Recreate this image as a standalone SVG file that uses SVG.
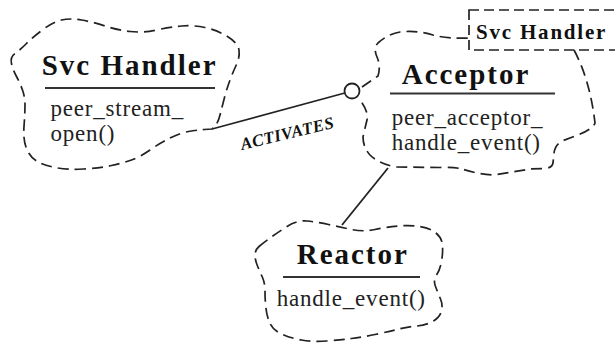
<svg xmlns="http://www.w3.org/2000/svg" width="615" height="344" viewBox="0 0 615 344">
<style>
.cloud{fill:none;stroke:#222;stroke-width:1.7;stroke-dasharray:11 6;stroke-linecap:butt;stroke-linejoin:round}
.box{fill:none;stroke:#222;stroke-width:1.7;stroke-dasharray:10 5}
.conn{fill:none;stroke:#222;stroke-width:1.8}
.title{font-family:"Liberation Serif",serif;font-weight:bold;font-size:29px;letter-spacing:2px;fill:#111}
.small{font-family:"Liberation Serif",serif;font-weight:bold;font-size:21px;letter-spacing:1.8px;fill:#111}
.mem{font-family:"Liberation Serif",serif;font-size:23px;letter-spacing:0.8px;fill:#222}
.rule{stroke:#333;stroke-width:2}
.lab{font-family:"Liberation Serif",serif;font-weight:bold;font-style:italic;font-size:17px;letter-spacing:0.5px;fill:#111}
</style>
<rect width="615" height="344" fill="#fff"/>
<g id="connectors">
<line class="conn" x1="212" y1="129" x2="344.8" y2="93"/>
<circle class="conn" cx="352" cy="91" r="7.5" fill="#fff"/>
<line class="conn" x1="388" y1="168" x2="342" y2="225"/>
<text class="lab" transform="translate(242,150) rotate(-13.5)">ACTIVATES</text>
</g>
<g id="svc-handler">
<path class="cloud" d="M11.5,63.5 Q10,57 15,53.5 Q20,50 26.5,43.5 Q33,37 43,29.5 Q53,22 61.5,20 Q70,18 81.5,20 Q93,22 105,26 Q117,30 130,31.5 Q143,33 156.5,30 Q170,27 181.5,26 Q193,25 205,27.5 Q217,30 227.5,36.5 Q238,43 239,50 Q240,57 236.5,64.5 Q233,72 230,80 Q227,88 224.5,97.5 Q222,107 220,115 Q218,123 215,126 L212,129 L204.5,129.5 Q197,130 188.5,131.5 Q180,133 170,138 Q160,143 150,150 Q140,157 131.5,160 Q123,163 111.5,165.5 Q100,168 83.5,169 Q67,170 55,167.5 Q43,165 36.5,161 Q30,157 26.5,148.5 Q23,140 24,126.5 Q25,113 25,105 Q25,97 22.5,90 Q20,83 16.5,76.5 Q13,70 11.5,63.5 Z"/>
<text class="title" x="41.7" y="75">Svc Handler</text>
<line class="rule" x1="45" y1="88" x2="215" y2="88"/>
<text class="mem" x="50.5" y="116">peer_stream_</text>
<text class="mem" x="50.5" y="141">open()</text>
</g>
<g id="acceptor">
<path class="cloud" d="M362,87 L378,76 Q381,66 377,57 Q373,48 378,43 Q388,34 400,32 Q417,30 433,35 Q448,39 469,38"/>
<path class="cloud" d="M574,50 Q590,80 595,123 Q593,129 578,135 L562,141 Q555,145 554,153 L553,163 Q552,168 545,168.5 L530,169 Q513,172 493,175 Q477,174 462,169 Q455,167 440,167.5 L395,167 Q378,163 370,155 Q363,147 363,137 Q365,128 367,120 Q369,112 360,100"/>
<rect class="box" x="469" y="10" width="160" height="40"/>
<text class="small" x="476" y="38.5">Svc Handler</text>
<text class="title" x="401.7" y="83.5">Acceptor</text>
<line class="rule" x1="390" y1="93.5" x2="555" y2="93.5"/>
<text class="mem" x="391.7" y="125">peer_acceptor_</text>
<text class="mem" x="391.7" y="150">handle_event()</text>
</g>
<g id="reactor">
<path class="cloud" d="M259,246.5 Q263,243 270,238 Q277,233 287,226.5 Q297,220 307,221 Q317,222 328.5,224.5 Q340,227 351.5,229.5 Q363,232 375,229.5 Q387,227 398.5,226 Q410,225 420,226.5 Q430,228 436,233 Q442,238 442.5,245.5 Q443,253 441.5,261.5 Q440,270 436.5,275 Q433,280 435.5,286.5 Q438,293 440.5,299 Q443,305 441.5,311 Q440,317 433.5,321 Q427,325 417,326 Q407,327 397,329.5 Q387,332 375,334.5 Q363,337 351.5,338.5 Q340,340 326.5,341 Q313,342 301.5,340 Q290,338 281.5,334 Q273,330 270,323.5 Q267,317 266,308.5 Q265,300 265,291.5 Q265,283 262.5,277.5 Q260,272 257.5,266 Q255,260 255,255 Q255,250 259,246.5 Z"/>
<text class="title" x="296.7" y="263.5">Reactor</text>
<line class="rule" x1="283" y1="277" x2="420" y2="277"/>
<text class="mem" x="276.7" y="306">handle_event()</text>
</g>
</svg>
